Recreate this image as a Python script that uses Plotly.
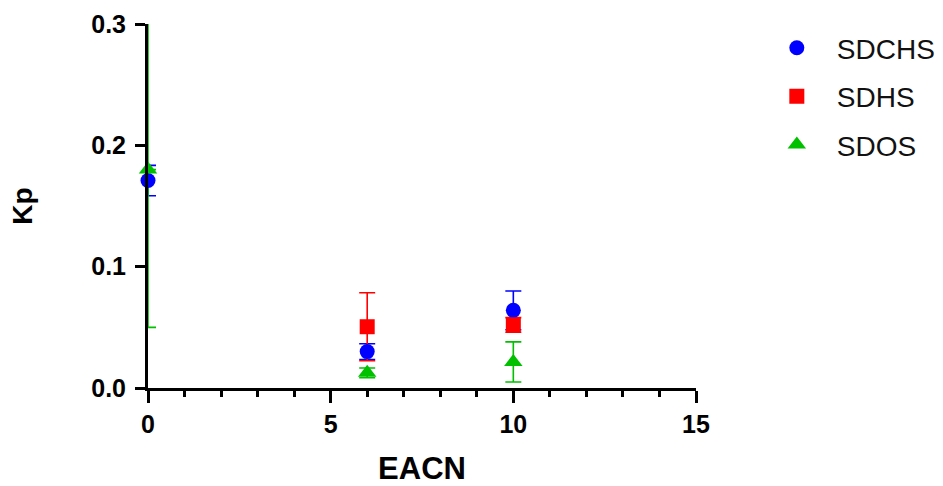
import plotly.graph_objects as go

# EACN values and partition coefficients (mean ± error) per surfactant
eacn = [0, 6, 10]

sdchs_kp = [0.171, 0.030, 0.064]
sdchs_err = [0.0125, 0.0065, 0.016]

sdhs_x = [6, 10]
sdhs_kp = [0.0505, 0.052]
sdhs_err = [0.028, 0.006]

sdos_kp = [0.180, 0.0125, 0.0215]
sdos_err = [0.130, 0.004, 0.0165]

x_ticks = [0, 5, 10, 15]
y_ticks = [0.0, 0.1, 0.2, 0.3]
y_max = 0.3

FONT = "Arial, Liberation Sans, sans-serif"

series = [
    ("SDCHS", eacn, sdchs_kp, sdchs_err, "#0000ff", "circle"),
    ("SDHS", sdhs_x, sdhs_kp, sdhs_err, "#ff0000", "square"),
    ("SDOS", eacn, sdos_kp, sdos_err, "#00c000", "triangle-up"),
]

fig = go.Figure()


def add_errors(xs, ys, plus, minus, color, cap):
    fig.add_trace(go.Scatter(
        x=xs, y=ys, mode="markers", showlegend=False, hoverinfo="skip",
        marker=dict(size=1, color="rgba(0,0,0,0)"),
        error_y=dict(type="data", symmetric=False, array=plus,
                     arrayminus=minus, visible=True, color=color,
                     thickness=1.6, width=cap),
        cliponaxis=False,
    ))


# error bars; an upper whisker that leaves the axis range is cut at the top
# of the axis and drawn without its cap
for name, xs, ys, errs, color, sym in series:
    inside = [i for i in range(len(xs)) if ys[i] + errs[i] <= y_max]
    outside = [i for i in range(len(xs)) if ys[i] + errs[i] > y_max]
    if inside:
        add_errors([xs[i] for i in inside], [ys[i] for i in inside],
                   [errs[i] for i in inside], [errs[i] for i in inside],
                   color, 8)
    if outside:
        ox = [xs[i] for i in outside]
        oy = [ys[i] for i in outside]
        add_errors(ox, oy, [y_max - ys[i] for i in outside],
                   [0 for _ in outside], color, 0)
        add_errors(ox, oy, [0 for _ in outside],
                   [errs[i] for i in outside], color, 8)

# markers drawn over the axis lines
for name, xs, ys, errs, color, sym in series:
    fig.add_trace(go.Scatter(
        x=xs, y=ys, mode="markers", name=name, legendgroup=name,
        marker=dict(symbol=sym, size=15 if sym != "triangle-up" else 16,
                    color=color, line=dict(width=0)),
        cliponaxis=False,
    ))

fig.update_layout(
    width=943, height=486,
    margin=dict(l=148, r=247, t=24, b=98, autoexpand=False),
    paper_bgcolor="white", plot_bgcolor="white",
    font=dict(family=FONT, color="black"),
    showlegend=True,
    legend=dict(x=1.111, y=1.0025, xanchor="left", yanchor="top",
                font=dict(size=28, family=FONT, color="#111"),
                tracegroupgap=9, itemsizing="trace", itemwidth=70,
                bgcolor="rgba(0,0,0,0)"),
    xaxis=dict(
        range=[0, 15], tickvals=x_ticks, ticktext=[str(v) for v in x_ticks],
        automargin=False,
        showgrid=False, zeroline=False,
        showline=True, linecolor="black", linewidth=3,
        ticks="outside", ticklen=12, tickwidth=3, tickcolor="black",
        minor=dict(dtick=1, ticks="outside", ticklen=6, tickwidth=3,
                   tickcolor="black", showgrid=False),
        tickfont=dict(size=25, family=FONT, weight="bold"),
        title=dict(text="EACN", font=dict(size=31, family=FONT, weight="bold"),
                   standoff=22),
    ),
    yaxis=dict(
        range=[0, y_max], tickvals=y_ticks, ticktext=[f"{v:.1f}" for v in y_ticks],
        automargin=False,
        showgrid=False, zeroline=False,
        showline=True, linecolor="black", linewidth=3,
        ticks="outside", ticklen=10, tickwidth=3, tickcolor="black",
        ticklabelstandoff=4,
        tickfont=dict(size=25, family=FONT, weight="bold"),
        title=dict(text="Kp", font=dict(size=28, family=FONT, weight="bold"),
                   standoff=51),
    ),
)

fig.write_html("out.html")
